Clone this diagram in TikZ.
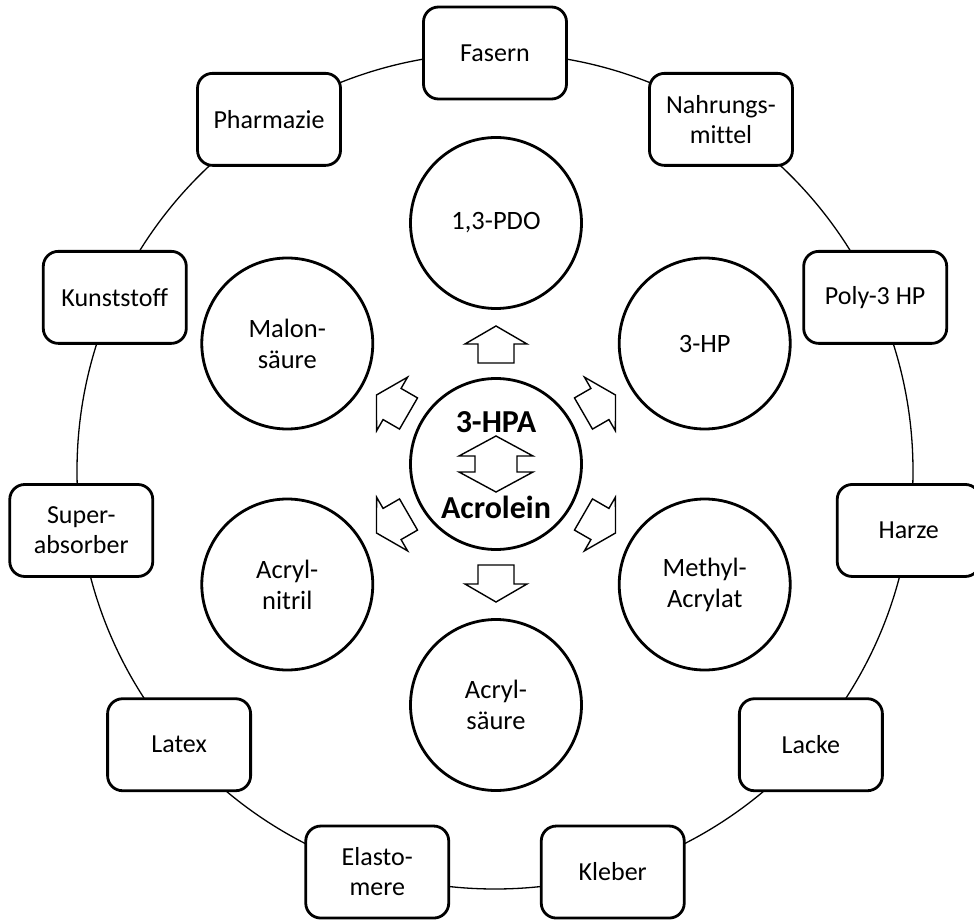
\documentclass[tikz,border=0pt]{standalone}
\usepackage{fontspec}
\setmainfont{Carlito}[Ligatures=NoCommon]
\tikzset{usebox/.style={draw,rounded corners=15pt,line width=2.8pt,fill=white,minimum width=143pt,minimum height=92pt,
    inner sep=0pt,align=center,font=\fontsize{26}{30}\selectfont},
  product/.style={circle,draw,line width=2.8pt,fill=white,minimum size=171pt,inner sep=0pt,align=center,
    font=\fontsize{26.5}{31}\selectfont},
  blockarrow/.pic={\draw[fill=white,line width=1.4pt] (-18,-18) -- (1,-18) -- (1,-31) -- (19,0) -- (1,31) -- (1,18) -- (-18,18) -- cycle;},
  dblarrow/.pic={\draw[fill=white,line width=1.4pt] (0,28) -- (37,8) -- (21,8) -- (21,-8) -- (37,-8) -- (0,-28)
    -- (-37,-8) -- (-21,-8) -- (-21,8) -- (-37,8) -- cycle;}}

\begin{document}
\begin{tikzpicture}[x=1pt,y=1pt]
  \path[use as bounding box] (-495,-450) rectangle (479,471);
  \coordinate (ring) at (0,0);
  \coordinate (hub) at (1,7);
  \draw[line width=1.3pt] (ring) circle[radius=418];
  \foreach \nm/\txt [count=\i from 0] in {fasern/Fasern, nahrung/{Nahrungs-\\mittel}, poly/Poly-3 HP, harze/Harze,
      lacke/Lacke, kleber/Kleber, elasto/{Elasto-\\mere}, latex/Latex, superabs/{Super-\\absorber},
      kunst/Kunststoff, pharma/Pharmazie}{
    \pgfmathsetmacro{\ang}{90-360/11*\i}
    \node[usebox] (\nm) at (\ang:418) {\txt};
  }
  \node[product] (center) at (hub) {};
  \node[font=\fontsize{32}{36}\selectfont\bfseries] (hpa) at ([yshift=42]hub) {3-HPA};
  \node[font=\fontsize{32}{36}\selectfont\bfseries] (acro) at ([yshift=-43]hub) {Acrolein};
  \pic at (hub) {dblarrow};
  \foreach \nm/\txt/\ang in {pdo/{1,3-PDO}/90, hp/3-HP/30, methyl/{Methyl-\\Acrylat}/-30, acryls/{Acryl-\\säure}/-90,
      nitril/{Acryl-\\nitril}/-150, malon/{Malon-\\säure}/150}{
    \node[product] (\nm) at ([shift={(\ang:241)}]hub) {\txt};
    \pic[rotate=\ang] at ([shift={(\ang:119)}]hub) {blockarrow};
  }
\end{tikzpicture}
\end{document}
